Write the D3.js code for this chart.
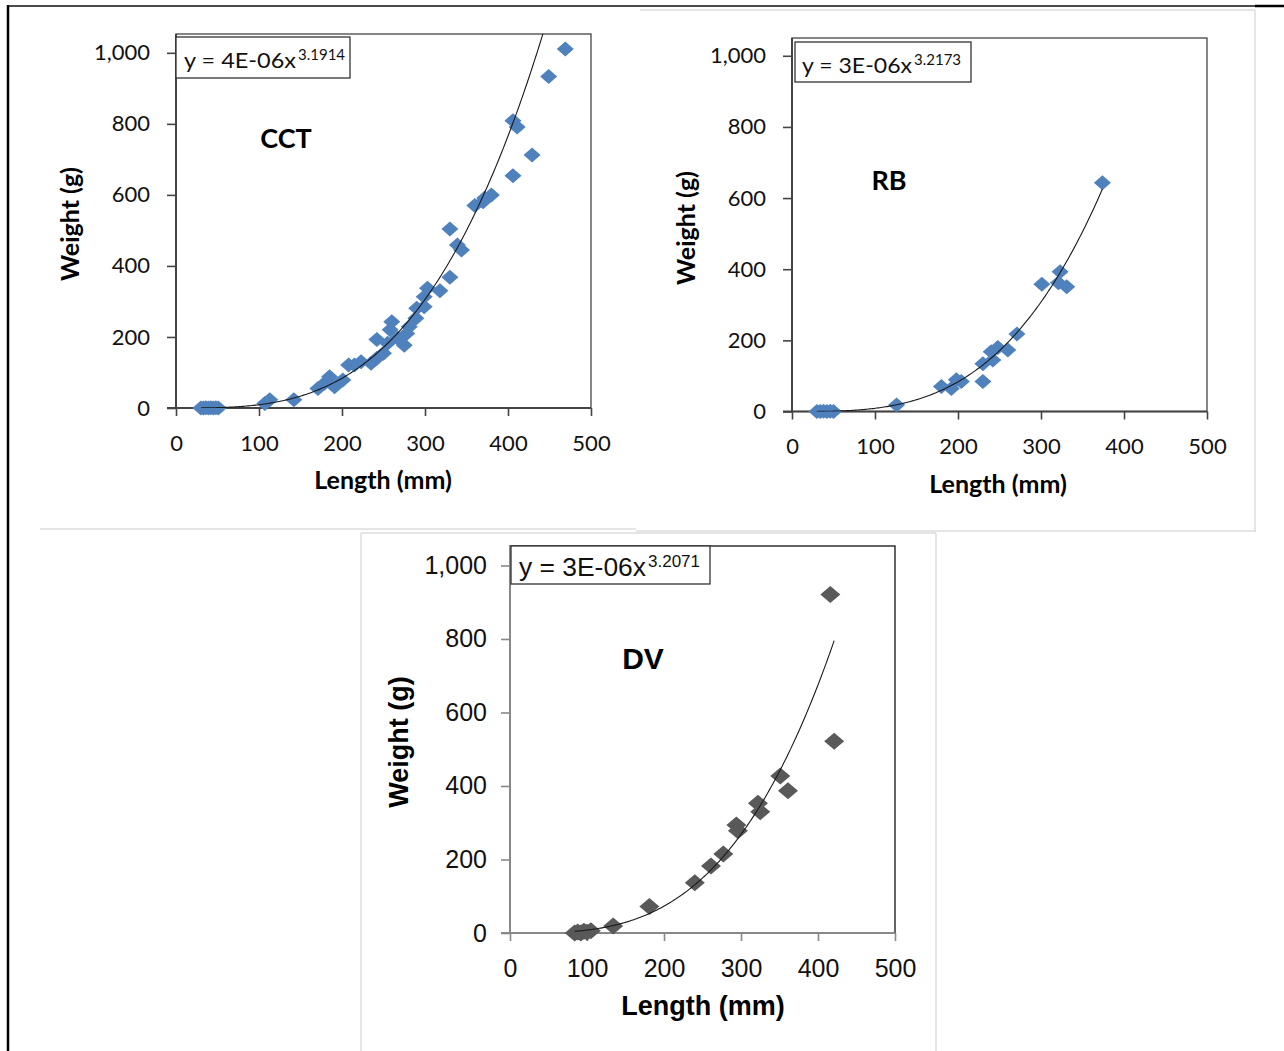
<!DOCTYPE html>
<html>
<head>
<meta charset="utf-8">
<script src="https://cdn.jsdelivr.net/npm/d3@7"></script>
<style>
  body { margin: 0; background: #fff; }
  svg { display: block; }
</style>
</head>
<body>
<div id="container"></div>
<script>
/* DATA */
const xTicks = [0, 100, 200, 300, 400, 500];
const yTicks = [0, 200, 400, 600, 800, 1000];

// CCT
const cctLength = [30, 33, 36, 39, 42, 45, 48, 51, 107, 113, 142, 171, 179, 185, 191, 201, 208, 215, 223, 235, 242, 242, 250, 255, 258, 260, 267, 275, 278, 281, 289, 290, 299, 299, 303, 318, 330, 330, 339, 344, 360, 370, 372, 380, 406, 406, 411, 429, 449, 469];
const cctWeight = [0, 0, 1, 0, 1, 0, 1, 0, 13, 23, 23, 55, 70, 88, 60, 79, 121, 121, 130, 126, 140, 193, 154, 182, 220, 243, 197, 177, 210, 229, 253, 281, 285, 313, 337, 330, 368, 504, 459, 445, 570, 581, 591, 600, 654, 809, 791, 712, 933, 1011];
// RB
const rbLength = [30, 34, 38, 42, 46, 50, 126, 180, 192, 198, 204, 230, 230, 240, 242, 248, 260, 271, 301, 321, 323, 331, 374];
const rbWeight = [0, 0, 1, 0, 1, 0, 18, 70, 65, 89, 84, 84, 134, 168, 145, 180, 173, 218, 358, 362, 393, 351, 643];
// DV
const dvLength = [84, 88, 92, 96, 100, 105, 134, 181, 240, 261, 277, 294, 296, 322, 325, 351, 361, 416, 421];
const dvWeight = [0, 3, 0, 5, 2, 6, 19, 72, 137, 182, 215, 294, 278, 353, 330, 427, 387, 921, 522];

// power trend lines y = a * x^b (coefficients tuned to the drawn curves)
const trendA = [3.8e-6, 3.3e-6, 3.05e-6];
const trendB = [3.1914, 3.2173, 3.2071];
const eqMain = ["y = 4E-06x", "y = 3E-06x", "y = 3E-06x"];
const eqSup = ["3.1914", "3.2173", "3.2071"];
const panelNames = ["CCT", "RB", "DV"];

const W = 1284, H = 1051;
const svg = d3.select("#container").append("svg")
  .attr("width", W).attr("height", H)
  .style("background-color", "white");

// outer frame + light panel borders
svg.append("line").attr("x1", 8).attr("y1", 5).attr("x2", 8).attr("y2", H).attr("stroke", "#000").attr("stroke-width", 2.5);
svg.append("line").attr("x1", 7).attr("y1", 6).attr("x2", 1255).attr("y2", 6).attr("stroke", "#111").attr("stroke-width", 1.5);
svg.append("line").attr("x1", 1255).attr("y1", 6).attr("x2", W).attr("y2", 6).attr("stroke", "#000").attr("stroke-width", 2.5);
const lightBorder = [
  [40, 529, 636, 529], [636, 531, 1256, 531], [640, 10, 1255, 10], [1255, 10, 1255, 531],
  [361, 533, 936, 533], [361, 533, 361, H], [936, 533, 936, H]
];
svg.selectAll("line.pb").data(lightBorder).enter().append("line")
  .attr("class", "pb")
  .attr("x1", d => d[0]).attr("y1", d => d[1]).attr("x2", d => d[2]).attr("y2", d => d[3])
  .attr("stroke", "#dcdcdc").attr("stroke-width", 1.5);

/* PANELS */
const panels = [
  { xs: cctLength, ys: cctWeight, left: 176, right: 591, top: 34, bottom: 408, yMax: 1053,
    color: "#4f81bd", font: "Lato", tick: 22, title: 25, name: 27, mw: 17, mh: 15,
    yLab: 26, xLab: 35, wx: 70, wy: 224, lx: 383, ly: 489, nx: 286, ny: 148,
    eq: { x: 176, y: 37, w: 174, h: 41, tx: 184, ty: 68, size: 22, len: 112, sup: 15 },
    axisColor: "#444", boxColor: "#444" },
  { xs: rbLength, ys: rbWeight, left: 792, right: 1207, top: 38, bottom: 411.5, yMax: 1050,
    color: "#4f81bd", font: "Lato", tick: 22, title: 25, name: 27, mw: 17, mh: 15,
    yLab: 26, xLab: 34.5, wx: 686, wy: 228, lx: 998, ly: 493, nx: 889, ny: 190,
    eq: { x: 795, y: 42, w: 176, h: 40, tx: 802, ty: 73, size: 22, len: 110, sup: 15 },
    axisColor: "#444", boxColor: "#444" },
  { xs: dvLength, ys: dvWeight, left: 510, right: 895, top: 546, bottom: 933, yMax: 1053,
    color: "#595959", font: "Liberation Sans", tick: 25, title: 27, name: 30, mw: 20, mh: 17,
    yLab: 23, xLab: 35, wx: 398, wy: 742, lx: 703, ly: 1015, nx: 643, ny: 669,
    eq: { x: 511, y: 546, w: 199, h: 38, tx: 519, ty: 576, size: 25, len: 127, sup: 17 },
    axisColor: "#888", boxColor: "#111" }
];

function diamond(w, h) {
  return `M0,${-h / 2}L${w / 2},0L0,${h / 2}L${-w / 2},0Z`;
}

panels.forEach((p, i) => {
  const xScale = d3.scaleLinear().domain([0, 500]).range([p.left, p.right]);
  const yScale = d3.scaleLinear().domain([0, p.yMax]).range([p.bottom, p.top]);
  const g = svg.append("g");

  // plot box
  g.append("rect")
    .attr("x", p.left).attr("y", p.top)
    .attr("width", p.right - p.left).attr("height", p.bottom - p.top)
    .attr("fill", "none").attr("stroke", p.boxColor).attr("stroke-width", 1.3);

  const clipId = "clip" + i;
  g.append("clipPath").attr("id", clipId).append("rect")
    .attr("x", p.left).attr("y", p.top)
    .attr("width", p.right - p.left).attr("height", p.bottom - p.top);

  // axes
  const xAxis = d3.axisBottom(xScale).tickValues(xTicks).tickSize(8).tickSizeOuter(0).tickFormat(d3.format(","));
  const gx = g.append("g").attr("transform", `translate(0,${p.bottom})`).call(xAxis);
  gx.selectAll("text").attr("y", p.xLab).attr("dy", "0.35em");

  const yAxis = d3.axisLeft(yScale).tickValues(yTicks).tickSize(9).tickSizeOuter(0).tickFormat(d3.format(","));
  const gy = g.append("g").attr("transform", `translate(${p.left},0)`).call(yAxis);
  gy.selectAll("text").attr("x", -p.yLab);

  [gx, gy].forEach(ax => {
    ax.select(".domain").attr("stroke", p.axisColor).attr("stroke-width", 2);
    ax.selectAll(".tick line").attr("stroke", p.axisColor).attr("stroke-width", 1.6);
    ax.selectAll("text").attr("fill", "#111")
      .style("font-family", p.font).style("font-size", p.tick + "px");
  });
  // y axis domain reaches the top of the box
  gy.select(".domain").attr("d", `M0,${p.bottom}V${p.top}`);
  gx.select(".domain").attr("d", `M${p.left - 9},0H${p.right}`);

  // markers
  const pts = p.xs.map((x, k) => ({ x: x, y: p.ys[k] }));
  g.append("g").selectAll("path")
    .data(pts).enter().append("path")
    .attr("d", diamond(p.mw, p.mh))
    .attr("transform", d => `translate(${xScale(d.x)},${yScale(d.y)})`)
    .attr("fill", p.color);

  // trend line over the data range
  const xMin = d3.min(p.xs), xMax = d3.max(p.xs);
  const curve = d3.range(0, 201).map(k => {
    const x = xMin + (xMax - xMin) * k / 200;
    return [x, trendA[i] * Math.pow(x, trendB[i])];
  });
  g.append("path")
    .datum(curve)
    .attr("clip-path", `url(#${clipId})`)
    .attr("d", d3.line().x(d => xScale(d[0])).y(d => yScale(d[1])))
    .attr("fill", "none").attr("stroke", "#1a1a1a").attr("stroke-width", 1.1);

  // equation box
  const e = p.eq;
  g.append("rect").attr("x", e.x).attr("y", e.y).attr("width", e.w).attr("height", e.h)
    .attr("fill", "white").attr("stroke", "#333").attr("stroke-width", 1.3);
  g.append("text").attr("x", e.tx).attr("y", e.ty)
    .attr("textLength", e.len).attr("lengthAdjust", "spacingAndGlyphs")
    .style("font-family", p.font).style("font-size", e.size + "px").attr("fill", "#111")
    .text(eqMain[i]);
  g.append("text").attr("x", e.tx + e.len + 2).attr("y", e.ty - e.size * 0.38)
    .style("font-family", p.font).style("font-size", e.sup + "px").attr("fill", "#111")
    .text(eqSup[i]);

  // titles
  g.append("text").attr("x", p.lx).attr("y", p.ly).attr("text-anchor", "middle")
    .style("font-family", p.font).style("font-weight", "bold").style("font-size", p.title + "px")
    .text("Length (mm)");
  g.append("text").attr("text-anchor", "middle")
    .attr("transform", `translate(${p.wx + p.title * 0.36},${p.wy}) rotate(-90)`)
    .style("font-family", p.font).style("font-weight", "bold").style("font-size", p.title + "px")
    .text("Weight (g)");
  g.append("text").attr("x", p.nx).attr("y", p.ny).attr("text-anchor", "middle")
    .style("font-family", p.font).style("font-weight", "bold").style("font-size", p.name + "px")
    .text(panelNames[i]);
});
</script>
</body>
</html>
